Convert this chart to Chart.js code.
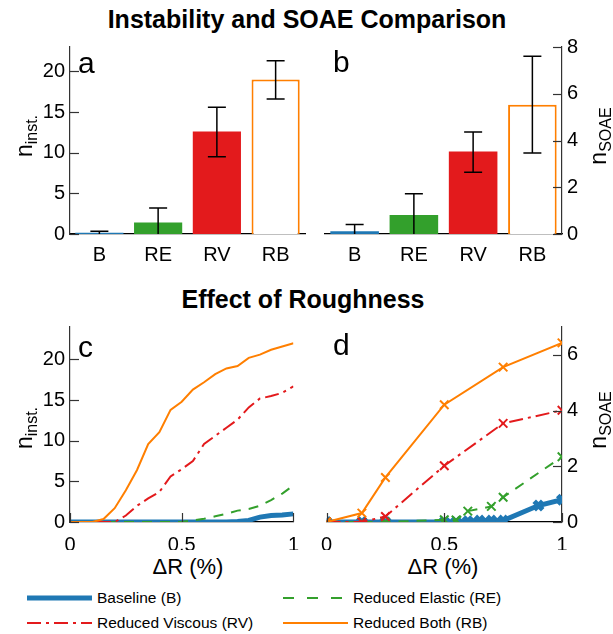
<!DOCTYPE html>
<html>
<head>
<meta charset="utf-8">
<script src="https://cdn.jsdelivr.net/npm/chart.js@4.4.0/dist/chart.umd.min.js"></script>
<style>
  body { margin: 0; background: #fff; font-family: "Liberation Sans", Arial, sans-serif; }
  #wrap { position: relative; width: 613px; height: 634px; overflow: hidden; }
  canvas.pane { position: absolute; }
  .txt { position: absolute; white-space: nowrap; color: #000; }
  .title { font-weight: bold; font-size: 25px; transform: translate(-50%, -50%); }
  .letter { font-size: 30px; transform: translate(0, -50%); }
  .ylab { font-size: 23px; transform: translate(-50%, -50%) rotate(-90deg); }
  .ylab sub { font-size: 16px; vertical-align: -5px; }
  .xlab { font-size: 22px; transform: translate(-50%, -50%); }
  .leg { font-size: 15.5px; transform: translate(0, -50%); }
  svg.key { position: absolute; }
</style>
</head>
<body>
<div id="wrap">
  <div class="txt title" style="left:307px; top:19px">Instability and SOAE Comparison</div>
  <div class="txt title" style="left:303px; top:299px">Effect of Roughness</div>

  <canvas id="chartA" class="pane" width="310" height="240" style="left:0; top:30px"></canvas>
  <canvas id="chartB" class="pane" width="303" height="240" style="left:310px; top:30px"></canvas>
  <canvas id="chartC" class="pane" width="310" height="240" style="left:0; top:310px"></canvas>
  <canvas id="chartD" class="pane" width="303" height="240" style="left:310px; top:310px"></canvas>

  <div class="txt letter" style="left:78px; top:63px">a</div>
  <div class="txt letter" style="left:333px; top:62px">b</div>
  <div class="txt letter" style="left:78px; top:347px">c</div>
  <div class="txt letter" style="left:333px; top:345px">d</div>

  <div class="txt ylab" style="left:26px; top:136px">n<sub>inst.</sub></div>
  <div class="txt ylab" style="left:26px; top:428px">n<sub>inst.</sub></div>
  <div class="txt ylab" style="left:600px; top:136px">n<sub>SOAE</sub></div>
  <div class="txt ylab" style="left:600px; top:420px">n<sub>SOAE</sub></div>

  <div class="txt xlab" style="left:188px; top:567px">ΔR (%)</div>
  <div class="txt xlab" style="left:443px; top:567px">ΔR (%)</div>

  <svg class="key" width="613" height="40" style="left:0; top:590px">
    <line x1="27" y1="8" x2="92" y2="8" stroke="#1f78b4" stroke-width="5"/>
    <line x1="283" y1="8" x2="348" y2="8" stroke="#33a02c" stroke-width="2" stroke-dasharray="11 13"/>
    <line x1="27" y1="33" x2="92" y2="33" stroke="#e31a1c" stroke-width="2" stroke-dasharray="14 5 3 5"/>
    <line x1="283" y1="33" x2="348" y2="33" stroke="#ff7f00" stroke-width="2"/>
  </svg>
  <div class="txt leg" style="left:97px; top:598px">Baseline (B)</div>
  <div class="txt leg" style="left:353px; top:598px">Reduced Elastic (RE)</div>
  <div class="txt leg" style="left:97px; top:623px">Reduced Viscous (RV)</div>
  <div class="txt leg" style="left:353px; top:623px">Reduced Both (RB)</div>
</div>

<script>
// bar panels
const categories = ['B', 'RE', 'RV', 'RB'];
const instMean = [0.15, 1.4, 12.6, 19.0];
const instLow = [0, 0, 9.5, 16.6];
const instHigh = [0.35, 3.2, 15.6, 21.3];
const soaeMean = [0.12, 0.81, 3.53, 5.53];
const soaeLow = [0, 0, 2.64, 3.46];
const soaeHigh = [0.41, 1.72, 4.36, 7.6];

// roughness sweep, instabilities (panel c)
const dR = [0, 0.05, 0.1, 0.15, 0.2, 0.25, 0.3, 0.35, 0.4, 0.45, 0.5, 0.55, 0.6, 0.65, 0.7, 0.75, 0.8, 0.85, 0.9, 0.95, 1];
const instB = [0, 0, 0, 0, 0, 0, 0, 0, 0, 0, 0, 0, 0, 0, 0, 0.05, 0.2, 0.6, 0.8, 0.85, 1.0];
const instRE = [0, 0, 0, 0, 0, 0, 0, 0, 0, 0, 0, 0.2, 0.4, 0.7, 1.0, 1.4, 1.6, 2.0, 2.7, 3.5, 4.5];
const instRV = [0, 0, 0, 0, 0, 0.8, 2.0, 2.9, 3.7, 5.6, 6.5, 7.5, 9.6, 10.6, 11.6, 12.6, 14.1, 15.2, 15.5, 15.9, 16.7];
const instRB = [0, 0, 0, 0.37, 1.7, 3.9, 6.4, 9.6, 11.05, 13.8, 14.8, 16.3, 17.2, 18.2, 18.9, 19.2, 20.2, 20.6, 21.2, 21.6, 22.0];

// roughness sweep, SOAEs (panel d)
const soaeXB = [0, 0.15, 0.25, 0.5, 0.55, 0.6, 0.65, 0.7, 0.75, 0.9, 1];
const soaeB = [0, 0, 0, 0, 0, 0.03, 0.05, 0.05, 0.05, 0.59, 0.8];
const soaeXRE = [0, 0.15, 0.25, 0.5, 0.55, 0.6, 0.7, 0.75, 1];
const soaeRE = [0, 0, 0, 0.08, 0.07, 0.39, 0.56, 0.89, 2.34];
const soaeXRV = [0, 0.15, 0.25, 0.5, 0.75, 1];
const soaeRV = [0, 0, 0.2, 2.02, 3.54, 4.01];
const soaeXRB = [0, 0.15, 0.25, 0.5, 0.75, 1];
const soaeRB = [0, 0.32, 1.6, 4.21, 5.56, 6.43];

// tick labels
const ticksA = [0, 5, 10, 15, 20];
const ticksB = [0, 2, 4, 6, 8];
const ticksC = [0, 5, 10, 15, 20];
const ticksD = [0, 2, 4, 6];
const ticksX = [0, 0.5, 1];

const BLUE = '#1f78b4', GREEN = '#33a02c', RED = '#e31a1c', ORANGE = '#ff7f00';
const AXIS = '#333';
const tickFont = { family: '"Liberation Sans", Arial, sans-serif', size: 20 };

// short tick marks pointing into the plot, like the original
const innerTicks = {
  id: 'innerTicks',
  afterDraw(chart) {
    const ctx = chart.ctx;
    ctx.save();
    ctx.strokeStyle = AXIS;
    ctx.lineWidth = 1.2;
    Object.values(chart.scales).forEach(s => {
      if (s.type === 'category') return;
      s.ticks.forEach(t => {
        const p = Math.round(s.getPixelForValue(t.value)) + 0.5;
        ctx.beginPath();
        if (s.axis === 'x') { ctx.moveTo(p, s.top); ctx.lineTo(p, s.top - 9); }
        else if (s.position === 'left') { ctx.moveTo(s.right, p); ctx.lineTo(s.right + 9, p); }
        else { ctx.moveTo(s.left, p); ctx.lineTo(s.left - 9, p); }
        ctx.stroke();
      });
    });
    ctx.restore();
  }
};

const errBars = {
  id: 'errBars',
  afterDatasetsDraw(chart, args, opts) {
    if (!opts.low) return;
    const ctx = chart.ctx;
    const y = chart.scales.y;
    ctx.save();
    ctx.strokeStyle = '#000';
    ctx.lineWidth = 1.5;
    chart.getDatasetMeta(0).data.forEach((bar, i) => {
      const x = bar.x;
      const yl = y.getPixelForValue(Math.max(opts.low[i], 0));
      const yh = y.getPixelForValue(opts.high[i]);
      ctx.beginPath();
      ctx.moveTo(x, yl); ctx.lineTo(x, yh);
      ctx.moveTo(x - 9, yh); ctx.lineTo(x + 9, yh);
      if (opts.low[i] > 0) { ctx.moveTo(x - 9, yl); ctx.lineTo(x + 9, yl); }
      ctx.stroke();
    });
    ctx.restore();
  }
};

function yScale(pos, max, ticks, width) {
  return {
    type: 'linear', position: pos, min: 0, max: max,
    afterBuildTicks: s => { s.ticks = ticks.map(v => ({ value: v })); },
    afterFit: s => { s.width = width; },
    grid: { display: false, drawTicks: false },
    border: { display: true, color: AXIS, width: 1.2 },
    ticks: { color: '#000', font: tickFont, padding: 5 }
  };
}

function barChart(id, values, low, high, max, ticks, pos, padding) {
  return new Chart(document.getElementById(id), {
    type: 'bar',
    data: {
      labels: categories,
      datasets: [{
        data: values,
        backgroundColor: [BLUE, GREEN, RED, '#fff'],
        borderColor: [BLUE, GREEN, RED, ORANGE],
        borderWidth: [0, 0, 0, 2],
        categoryPercentage: 1,
        barPercentage: 0.82
      }]
    },
    options: {
      responsive: false, animation: false,
      layout: { padding: padding },
      plugins: { legend: { display: false }, tooltip: { enabled: false }, errBars: { low: low, high: high } },
      scales: {
        x: {
          afterFit: s => { s.height = 36; },
          grid: { display: false, drawTicks: false },
          border: { display: true, color: '#000', width: 1.2 },
          ticks: { color: '#000', font: tickFont, padding: 9 }
        },
        y: yScale(pos, max, ticks, pos === 'left' ? 70 : 51)
      }
    },
    plugins: [innerTicks, errBars]
  });
}

function series(xs, ys, color, width, dash, order, marker) {
  const thick = width > 3;
  return {
    data: xs.map((x, i) => ({ x: x, y: ys[i] })),
    borderColor: color, backgroundColor: color,
    borderWidth: width, borderDash: dash, order: order,
    pointStyle: 'crossRot',
    pointRadius: marker ? (thick ? 6 : 6) : 0,
    pointBorderWidth: marker ? (thick ? 5 : 2) : 0,
    tension: 0, fill: false
  };
}

function lineChart(id, sets, max, ticks, pos, padding) {
  return new Chart(document.getElementById(id), {
    type: 'line',
    data: { datasets: sets },
    options: {
      responsive: false, animation: false,
      layout: { padding: padding },
      plugins: { legend: { display: false }, tooltip: { enabled: false } },
      scales: {
        x: {
          type: 'linear', min: 0, max: 1,
          afterBuildTicks: s => { s.ticks = ticksX.map(v => ({ value: v })); },
          afterFit: s => { s.height = 28; },
          grid: { display: false, drawTicks: false },
          border: { display: true, color: '#000', width: 1.2 },
          ticks: { color: '#000', font: tickFont, padding: 11, callback: v => String(v) }
        },
        y: yScale(pos, max, ticks, pos === 'left' ? 70 : 51)
      }
    },
    plugins: [innerTicks]
  });
}

barChart('chartA', instMean, instLow, instHigh, 23, ticksA, 'left', { top: 8, right: 5, left: 0, bottom: 0 });
barChart('chartB', soaeMean, soaeLow, soaeHigh, 8, ticksB, 'right', { top: 10, right: 0, left: 15, bottom: 0 });

lineChart('chartC', [
  series(dR, instB, BLUE, 5, [], 4, false),
  series(dR, instRE, GREEN, 2, [10, 8], 3, false),
  series(dR, instRV, RED, 2, [14, 5, 3, 5], 2, false),
  series(dR, instRB, ORANGE, 2, [], 1, false)
], 24, ticksC, 'left', { top: 15, right: 4, left: 0, bottom: 0 });

lineChart('chartD', [
  series(soaeXB, soaeB, BLUE, 5, [], 4, true),
  series(soaeXRE, soaeRE, GREEN, 2, [10, 8], 3, true),
  series(soaeXRV, soaeRV, RED, 2, [14, 5, 3, 5], 2, true),
  series(soaeXRB, soaeRB, ORANGE, 2, [], 1, true)
], 7, ticksD, 'right', { top: 15, right: 0, left: 14, bottom: 0 });
</script>
</body>
</html>
